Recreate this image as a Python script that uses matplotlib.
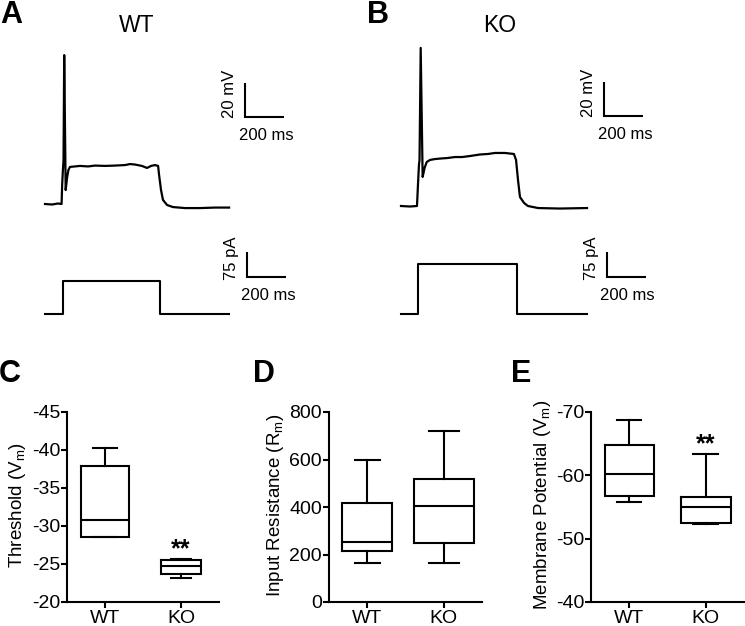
import numpy as np
import matplotlib
matplotlib.use('Agg')
import matplotlib.pyplot as plt

plt.rcParams['font.family'] = ['Liberation Sans', 'DejaVu Sans']
plt.rcParams['mathtext.default'] = 'regular'
plt.rcParams['axes.unicode_minus'] = False

# ---- example traces (ms, mV)
wt_t = [0, 36, 67, 85, 88, 91, 95, 98.5, 106, 113, 120, 128, 154, 179, 221, 256, 308, 359,
        410, 436, 462, 497, 523, 544, 564, 580, 585, 595, 605, 626, 656, 718, 795, 872, 944]
wt_v = [-62, -62.3, -61.7, -62, -50.8, -43.8, -36.1, 25.6, -53.8, -46.7, -42, -40.2, -39.9,
        -39.6, -39.9, -39.4, -39.6, -39.4, -39.1, -38.5, -38.8, -39.6, -40.8, -39.6, -39.1,
        -39.6, -44.9, -53.8, -59.6, -62.6, -63.8, -64.4, -64.4, -64.1, -64.1]
ko_t = [0, 46, 82, 87, 92, 95, 101, 111, 121, 132, 149, 174, 200, 236, 277, 313, 354, 405,
        446, 482, 533, 579, 590, 600, 610, 631, 651, 703, 815, 954]
ko_v = [-62, -62.3, -62, -49.6, -37.9, -35, 31, -44.9, -39.6, -36.1, -34.9, -34.4, -34.1,
        -33.8, -33.2, -33.2, -32.6, -31.7, -31.4, -30.8, -30.8, -31.4, -34.9, -46.7, -56.7,
        -60.2, -62, -63.2, -63.5, -63.2]

# current steps (ms, pA)
wt_step_t = [0, 90, 90, 590, 590, 944]
wt_step_i = [0, 0, 100, 100, 0, 0]
ko_step_t = [0, 87, 87, 595, 595, 954]
ko_step_i = [0, 0, 150, 150, 0, 0]

# ---- box plot summaries: min, q1, median, q3, max
groups = ['WT', 'KO']
thr_wt = [-40.3, -37.85, -30.75, -28.6, -28.6]
thr_ko = [-25.6, -25.5, -24.75, -23.75, -23.2]
rin_wt = [166, 215, 251, 418, 597]
rin_ko = [166, 250, 406, 517, 719]
vm_wt = [-68.7, -64.85, -60.15, -56.75, -55.85]
vm_ko = [-63.3, -56.5, -55.05, -52.5, -52.3]

W, H = 745, 626
fig = plt.figure(figsize=(W / 100, H / 100), dpi=100)


def px_axes(x0, y0, x1, y1):
    return fig.add_axes([x0 / W, 1 - y1 / H, (x1 - x0) / W, (y1 - y0) / H])


def trace_axes(box, t0_px, ref_py, ref_val, px_per_unit, px_per_ms=0.195):
    ax = px_axes(*box)
    x0, y0, x1, y1 = box
    ax.set_xlim((x0 - t0_px) / px_per_ms, (x1 - t0_px) / px_per_ms)
    ax.set_ylim(ref_val - (y1 - ref_py) / px_per_unit, ref_val + (ref_py - y0) / px_per_unit)
    ax.axis('off')
    return ax


def scale_bar(ax, t, v, dt, dv, vtxt, ttxt='200 ms'):
    ax.plot([t, t, t + dt], [v + dv, v, v], color='k', lw=1.5, clip_on=False,
            solid_joinstyle='miter', solid_capstyle='butt')
    ax.annotate(vtxt, xy=(t, v + dv / 2), xytext=(-11, 4.5), textcoords='offset points',
                rotation=90, ha='center', va='center', fontsize=12)
    ax.annotate(ttxt, xy=(t + dt / 2, v), xytext=(1, -13), textcoords='offset points',
                ha='center', va='center', fontsize=12)


# panel A
axv = trace_axes((40, 40, 300, 220), 45, 204, -62, 1.7)
axv.plot(wt_t, wt_v, color='k', lw=1.6)
scale_bar(axv, 1026, -10.8, 200, 20, '20 mV')
axi = trace_axes((40, 225, 300, 320), 45, 314, 0, 1 / 3)
axi.plot(wt_step_t, wt_step_i, color='k', lw=1.5)
scale_bar(axi, 1036, 111, 200, 75, '75 pA')

# panel B
axv = trace_axes((395, 40, 660, 220), 401, 206, -62, 1.7)
axv.plot(ko_t, ko_v, color='k', lw=1.6)
scale_bar(axv, 1041, -9.1, 200, 20, '20 mV')
axi = trace_axes((395, 225, 660, 320), 401, 314, 0, 1 / 3)
axi.plot(ko_step_t, ko_step_i, color='k', lw=1.5)
scale_bar(axi, 1056, 111, 200, 75, '75 pA')


def box_panel(box, data, widths, ylim, yticks, ylabel, label_x, stars=False):
    ax = px_axes(*box)
    stats = [dict(whislo=d[0], q1=d[1], med=d[2], q3=d[3], whishi=d[4], label=g)
             for d, g in zip(data, groups)]
    lp = dict(color='k', lw=1.5, solid_joinstyle='miter')
    ax.bxp(stats, positions=[0, 1], widths=widths, capwidths=[w / 2 for w in widths],
           showfliers=False, boxprops=lp, whiskerprops=lp, capprops=lp, medianprops=lp)
    ax.set_xlim(-0.5, 1.5)
    ax.set_ylim(*ylim)
    ax.set_yticks(yticks)
    ax.set_xticks([0, 1], groups)
    for s in ['top', 'right']:
        ax.spines[s].set_visible(False)
    for s in ['left', 'bottom']:
        ax.spines[s].set_linewidth(1.5)
    ax.tick_params(width=1.5, length=4, labelsize=14, pad=1)
    ax.tick_params(axis='x', pad=2)
    ax.set_ylabel(ylabel, fontsize=13.5)
    ax.yaxis.set_label_coords(label_x, 0.51)
    if stars:
        ax.annotate('**', xy=(1, data[1][0]), xytext=(0, -1), textcoords='offset points',
                    ha='center', va='bottom', fontsize=18, fontweight='bold')
    return ax


box_panel((67, 412, 219, 602), [thr_wt, thr_ko], [0.64, 0.52], (-20, -45),
          [-45, -40, -35, -30, -25, -20], 'Threshold (V$_m$)', -0.255, stars=True)
box_panel((329, 412, 482, 602), [rin_wt, rin_ko], [0.65, 0.78], (0, 800),
          [0, 200, 400, 600, 800], 'Input Resistance (R$_m$)', -0.28)
box_panel((591, 412, 744, 602), [vm_wt, vm_ko], [0.64, 0.65], (-40, -70),
          [-70, -60, -50, -40], 'Membrane Potential (V$_m$)', -0.25, stars=True)

# panel letters and titles
for x, y, s in [(0, 23, 'A'), (367, 23, 'B'), (-1, 382, 'C'), (253, 382, 'D'), (511, 382, 'E')]:
    fig.text(x / W, 1 - y / H, s, fontsize=22, fontweight='bold', va='baseline')
fig.text(137 / W, 1 - 32 / H, 'WT', fontsize=16.5, ha='center', va='baseline')
fig.text(500 / W, 1 - 32 / H, 'KO', fontsize=16.5, ha='center', va='baseline')

fig.savefig('out.png', dpi=100)
